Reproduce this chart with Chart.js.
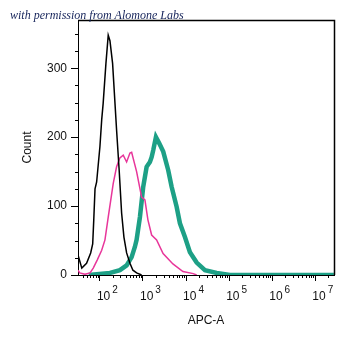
<!DOCTYPE html>
<html>
<head>
<meta charset="utf-8">
<script src="https://cdn.jsdelivr.net/npm/chart.js@4.4.1/dist/chart.umd.min.js"></script>
<style>
    html, body { margin: 0; padding: 0; background: #fff; }
    .box { width: 355px; height: 348px; position: relative; }
</style>
</head>
<body>
<div class="box"><canvas class="myChart"></canvas></div>
<script>
// histogram traces (x = APC-A intensity, y = count)
const blackX = [31, 38, 49, 61, 68, 72, 77, 84, 100, 110, 119, 138, 156, 171, 197, 244, 280, 319, 361, 417, 498, 584, 711, 929];
const blackY = [29, 10, 17, 32, 45, 80, 125, 135, 186, 225, 249, 307, 348, 340, 307, 210, 152, 90, 55, 32, 17, 7, 3, 0];

const pinkX = [31, 34, 45, 59, 70, 87, 110, 131, 156, 204, 244, 291, 348, 417, 498, 545, 711, 929, 1109, 1302, 1587, 2073, 2930, 4955, 8467, 14689, 17620];
const pinkY = [7, 3, 1, 3, 10, 22, 36, 51, 84, 133, 157, 170, 174, 164, 177, 178, 150, 113, 109, 80, 58, 51, 31, 16, 5, 2, 0];

const tealX = [55, 171, 291, 417, 545, 650, 711, 849, 1013, 1215, 1449, 1587, 1729, 1998, 2384, 2951, 3855, 4624, 6039, 7206, 9418, 12303, 17620, 27429, 51286, 104500, 27000000];
const tealY = [0, 3, 7, 14, 26, 41, 51, 84, 128, 157, 164, 171, 181, 200, 191, 179, 152, 128, 99, 75, 55, 33, 18, 7, 3, 0, 0];

const xMajor = [100, 1000, 10000, 100000, 1000000, 10000000];
const xExp = ["2", "3", "4", "5", "6", "7"];
const yMajor = [0, 100, 200, 300];

const FONT = "'Liberation Sans', Arial, sans-serif";

function pts(xs, ys) {
    return xs.map((x, i) => ({ x: x, y: ys[i] }));
}

// minor ticks, 10^n labels, frame and the credit line
const extras = {
    id: "extras",
    afterDraw(chart) {
        const ctx = chart.ctx;
        const a = chart.chartArea;
        const xs = chart.scales.x;
        const ys = chart.scales.y;
        ctx.save();
        ctx.strokeStyle = "#000";
        ctx.lineWidth = 1;

        // x minor ticks
        ctx.beginPath();
        for (let p = 1; p <= 7; p++) {
            for (let m = 2; m <= 9; m++) {
                const v = m * Math.pow(10, p);
                if (v < xs.min || v > xs.max) continue;
                const px = Math.round(xs.getPixelForValue(v)) + 0.5;
                ctx.moveTo(px, a.bottom);
                ctx.lineTo(px, a.bottom + 3);
            }
        }
        // y minor ticks
        for (let v = 25; v < ys.max; v += 25) {
            if (v % 100 === 0) continue;
            const py = Math.round(ys.getPixelForValue(v)) + 0.5;
            ctx.moveTo(a.left - 3, py);
            ctx.lineTo(a.left, py);
        }
        ctx.stroke();

        // frame top and right
        ctx.lineWidth = 1.5;
        ctx.beginPath();
        ctx.moveTo(a.left, a.top + 0.5);
        ctx.lineTo(a.right + 0.5, a.top + 0.5);
        ctx.lineTo(a.right + 0.5, a.bottom);
        ctx.stroke();

        // 10^n labels
        ctx.fillStyle = "#111";
        ctx.textBaseline = "alphabetic";
        ctx.textAlign = "left";
        xMajor.forEach((v, i) => {
            const px = xs.getPixelForValue(v);
            ctx.font = "12px " + FONT;
            const w = ctx.measureText("10").width;
            ctx.fillText("10", px - 3, a.bottom + 25);
            ctx.font = "10px " + FONT;
            ctx.fillText(xExp[i], px - 3 + w + 2, a.bottom + 18);
        });

        // credit line
        ctx.font = "italic 12px 'Liberation Serif', 'DejaVu Serif', serif";
        ctx.fillStyle = "#15235a";
        ctx.fillText("with permission from Alomone Labs", 10, 19);
        ctx.restore();
    }
};

const data = {
    datasets: [
        {
            label: "black",
            data: pts(blackX, blackY),
            borderColor: "#000",
            borderWidth: 1.5,
        },
        {
            label: "pink",
            data: pts(pinkX, pinkY),
            borderColor: "#e8369a",
            borderWidth: 1.5,
        },
        {
            label: "teal",
            data: pts(tealX, tealY),
            borderColor: "#1da086",
            borderWidth: 4.5,
        }
    ]
};

const config = {
    type: "line",
    data: data,
    options: {
        responsive: true,
        maintainAspectRatio: false,
        animation: false,
        layout: {
            padding: { top: 20, right: 21, left: 0, bottom: 0 }
        },
        elements: {
            point: { radius: 0 },
            line: { tension: 0 }
        },
        plugins: {
            legend: { display: false },
            tooltip: { enabled: false }
        },
        scales: {
            x: {
                type: "logarithmic",
                min: 31,
                max: 27200000,
                afterBuildTicks(scale) {
                    scale.ticks = xMajor.map(v => ({ value: v }));
                },
                afterFit(scale) {
                    scale.height = 73;
                },
                ticks: { display: false },
                grid: {
                    drawOnChartArea: false,
                    drawTicks: true,
                    tickLength: 6,
                    tickColor: "#000",
                },
                border: { color: "#000", width: 1 },
                title: {
                    display: true,
                    text: "APC-A",
                    color: "#111",
                    font: { family: FONT, size: 12 },
                    padding: { top: 0, bottom: 20 }
                }
            },
            y: {
                min: 0,
                max: 370,
                afterBuildTicks(scale) {
                    scale.ticks = yMajor.map(v => ({ value: v }));
                },
                afterFit(scale) {
                    scale.width = 78;
                },
                ticks: {
                    color: "#111",
                    padding: 4,
                    font: { family: FONT, size: 12 }
                },
                grid: {
                    drawOnChartArea: false,
                    drawTicks: true,
                    tickLength: 7,
                    tickColor: "#000",
                },
                border: { color: "#000", width: 1 },
                title: {
                    display: true,
                    text: "Count",
                    color: "#111",
                    font: { family: FONT, size: 12 },
                    padding: { top: 20, bottom: 0 }
                }
            }
        }
    },
    plugins: [extras]
};

const myChart = new Chart(document.querySelector(".myChart"), config);
</script>
</body>
</html>
